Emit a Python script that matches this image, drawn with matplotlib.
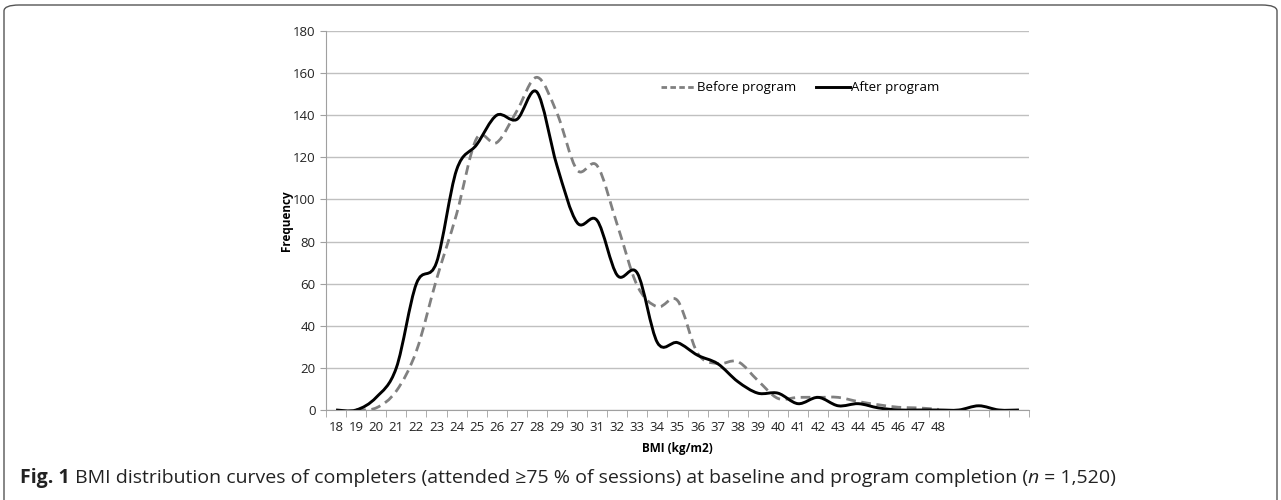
import matplotlib
matplotlib.use("Agg")
from matplotlib import pyplot as plt
from matplotlib.path import Path
from matplotlib.patches import PathPatch, FancyBboxPatch
from matplotlib.lines import Line2D
import numpy as np

plt.rcParams['font.family'] = ['Open Sans', 'DejaVu Sans']

bmi_labels = [str(v) for v in range(18, 49)] + ["", "", "", ""]
# frequencies per BMI category (None = no point)
before = [None, 0, 1, 9, 28, 62, 93, 129, 127, 142, 158, 141, 114, 116, 88, 59,
          49, 52, 27, 22, 23, 14, 5.5, 6, 6, 6, 4, 2.5, 1.3, 1, 0.3]
after = [0, 0, 6, 20, 60, 70, 114, 126, 140, 138, 151, 116, 89, 90, 64, 65,
         32, 32, 26, 22, 13.5, 8, 8, 3, 6, 2, 3, 1, 0, 0, 0, 0, 2, 0, 0]


def smooth_path(ys):
    pts = [(i, y) for i, y in enumerate(ys) if y is not None]
    verts = [pts[0]]
    codes = [Path.MOVETO]
    n = len(pts)
    for k in range(n - 1):
        p0 = np.array(pts[k - 1] if k > 0 else pts[k], float)
        p1 = np.array(pts[k], float)
        p2 = np.array(pts[k + 1], float)
        p3 = np.array(pts[k + 2] if k + 2 < n else pts[k + 1], float)
        c1 = p1 + (p2 - p0) / 6.0
        c2 = p2 - (p3 - p1) / 6.0
        verts += [tuple(c1), tuple(c2), tuple(p2)]
        codes += [Path.CURVE4] * 3
    return Path(verts, codes)


fig = plt.figure(figsize=(12.81, 5.0), dpi=100)
ax = fig.add_axes([326 / 1281, 1 - 410 / 500, 703 / 1281, 379 / 500])

ax.add_patch(PathPatch(smooth_path(before), fill=False, edgecolor='#808080',
                       lw=2.0, linestyle=(0, (3.5, 2)), capstyle='butt'))
ax.add_patch(PathPatch(smooth_path(after), fill=False, edgecolor='black', lw=2.1))

ax.set_xlim(-0.5, len(bmi_labels) - 0.5)
ax.set_ylim(0, 180)
ax.set_yticks(range(0, 181, 20))
ax.yaxis.grid(True, color='#c0c0c0', lw=1.0)
ax.set_axisbelow(True)
ax.set_xticks(range(len(bmi_labels)))
ax.set_xticklabels(bmi_labels)
ax.set_xticks(np.arange(-0.5, len(bmi_labels)), minor=True)
ax.tick_params(axis='x', which='major', length=0, pad=8, labelsize=9.5, labelcolor='#222222')
ax.tick_params(axis='x', which='minor', length=5, color='#a0a0a0', direction='out')
ax.tick_params(axis='y', length=4, color='#a0a0a0', labelsize=9.5, labelcolor='#222222')
for s in ['top', 'right']:
    ax.spines[s].set_visible(False)
for s in ['left', 'bottom']:
    ax.spines[s].set_color('#a0a0a0')

ax.set_ylabel("Frequency", fontsize=8.5, fontweight='bold', labelpad=0)
ax.set_xlabel("BMI (kg/m2)", fontsize=8.5, fontweight='bold', labelpad=6)

handles = [Line2D([], [], color='#808080', lw=2.0, linestyle=(0, (2, 1.2))),
           Line2D([], [], color='black', lw=2.1)]
ax.legend(handles, ["Before program", "After program"], ncol=2, frameon=False,
          loc='center', bbox_to_anchor=(0.675, 0.85), fontsize=9.5,
          handlelength=2.6, handletextpad=0.1, columnspacing=1.5)

# figure frame
fig.patches.append(FancyBboxPatch((4 / 1281, -0.1), 1273 / 1281, 1.1 - 5 / 500,
                                  boxstyle="round,pad=0,rounding_size=0.012",
                                  transform=fig.transFigure, fill=False,
                                  edgecolor='#555555', lw=1.0))

# caption
renderer = fig.canvas.get_renderer()
x = 20 / 1281
y = 1 - 478 / 500
parts = [("Fig. 1", 'bold', 'normal'),
         (" BMI distribution curves of completers (attended \u226575 % of sessions) at baseline and program completion (", 'normal', 'normal'),
         ("n", 'normal', 'italic'),
         (" = 1,520)", 'normal', 'normal')]
for txt, w, st in parts:
    t = fig.text(x, y, txt, fontsize=14, fontweight=w, fontstyle=st,
                 va='center', ha='left', color='#222222')
    bb = t.get_window_extent(renderer)
    x += bb.width / 1281

fig.savefig("out.png", dpi=100)
